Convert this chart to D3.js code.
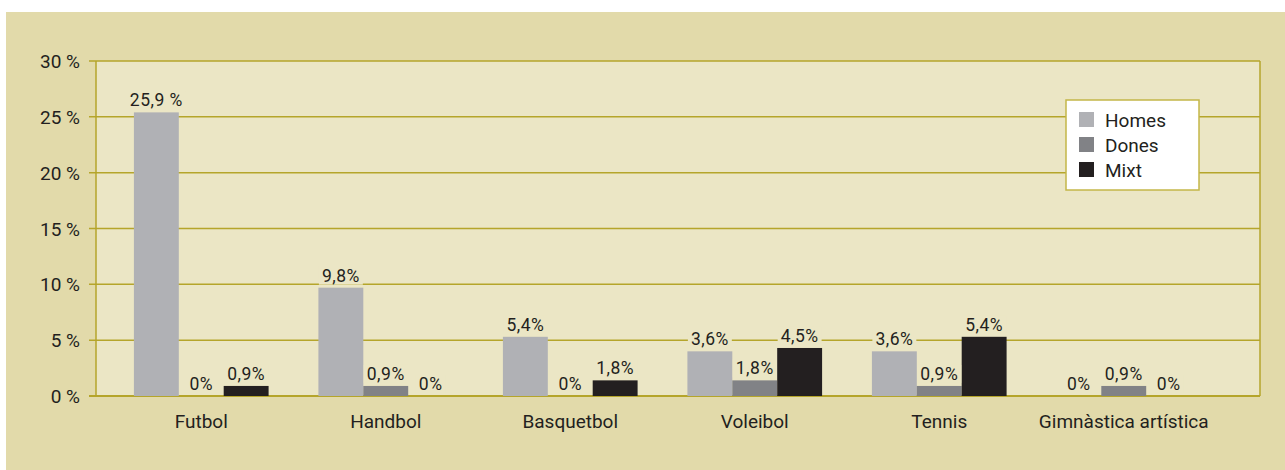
<!DOCTYPE html>
<html lang="ca">
<head>
<meta charset="UTF-8">
<title>Esports per sexe</title>
<script src="https://d3js.org/d3.v7.min.js"></script>
<style>
    body { margin: 0; background: #fff; }
    svg { display: block; font-family: 'Roboto', 'Liberation Sans', sans-serif; }
</style>
</head>
<body>
<div id="chart"></div>
<script>
    // data
    const categories = ["Futbol", "Handbol", "Basquetbol", "Voleibol", "Tennis", "Gimnàstica artística"];
    const series = ["Homes", "Dones", "Mixt"];
    const homes = [25.4, 9.7, 5.3, 4.0, 4.0, 0];
    const dones = [0, 0.9, 0, 1.4, 0.9, 0.9];
    const mixt = [0.9, 0, 1.4, 4.3, 5.3, 0];
    const homesLabels = ["25,9 %", "9,8%", "5,4%", "3,6%", "3,6%", "0%"];
    const donesLabels = ["0%", "0,9%", "0%", "1,8%", "0,9%", "0,9%"];
    const mixtLabels = ["0,9%", "0%", "1,8%", "4,5%", "5,4%", "0%"];
    const yTicks = [0, 5, 10, 15, 20, 25, 30];

    const width = 1285, height = 470;
    const colors = { Homes: "#b0b1b5", Dones: "#818286", Mixt: "#231f20" };
    const plotBg = "#ebe6c5", outerBg = "#e2daaa", gold = "#b5a52b", ink = "#231f20";

    const values = { Homes: homes, Dones: dones, Mixt: mixt };
    const labels = { Homes: homesLabels, Dones: donesLabels, Mixt: mixtLabels };

    const svg = d3.select("#chart").append("svg")
        .attr("width", width)
        .attr("height", height);

    // outer panel
    svg.append("rect")
        .attr("x", 6).attr("y", 12)
        .attr("width", width - 6).attr("height", height - 12)
        .attr("fill", outerBg);

    const plot = { left: 96, right: 1260, top: 61, bottom: 396 };

    const y = d3.scaleLinear().domain([0, 30]).range([plot.bottom, plot.top]);
    const x0 = d3.scaleBand().domain(categories).range([109, 1216])
        .paddingInner(0.27).paddingOuter(0.135);
    const x1 = d3.scaleBand().domain(series).range([0, x0.bandwidth()]);

    svg.append("rect")
        .attr("x", plot.left).attr("y", plot.top)
        .attr("width", plot.right - plot.left).attr("height", plot.bottom - plot.top)
        .attr("fill", plotBg);

    // gridlines + ticks
    svg.append("g")
        .selectAll("line")
        .data(yTicks)
        .join("line")
        .attr("x1", plot.left - 7).attr("x2", plot.right)
        .attr("y1", d => y(d)).attr("y2", d => y(d))
        .attr("stroke", gold).attr("stroke-width", d => d === 0 ? 2 : 1.5);

    svg.append("line")
        .attr("x1", plot.left).attr("x2", plot.left)
        .attr("y1", plot.top).attr("y2", plot.bottom)
        .attr("stroke", gold).attr("stroke-width", 1.5);
    svg.append("line")
        .attr("x1", plot.right).attr("x2", plot.right)
        .attr("y1", plot.top).attr("y2", plot.bottom)
        .attr("stroke", gold).attr("stroke-width", 1.5);

    svg.append("g")
        .selectAll("text")
        .data(yTicks)
        .join("text")
        .attr("x", 80).attr("y", d => y(d) + 7)
        .attr("text-anchor", "end")
        .attr("font-size", 19).attr("fill", ink)
        .text(d => d + " %");

    // bars
    const rows = [];
    categories.forEach((c, i) => {
        series.forEach(s => rows.push({ cat: c, s: s, v: values[s][i], label: labels[s][i] }));
    });

    svg.append("g")
        .selectAll("rect")
        .data(rows)
        .join("rect")
        .attr("x", d => x0(d.cat) + x1(d.s))
        .attr("y", d => y(d.v))
        .attr("width", x1.bandwidth())
        .attr("height", d => y(0) - y(d.v))
        .attr("fill", d => colors[d.s]);

    // value labels with masking background
    const lab = svg.append("g")
        .selectAll("g")
        .data(rows)
        .join("g");
    lab.append("text")
        .attr("x", d => x0(d.cat) + x1(d.s) + x1.bandwidth() / 2)
        .attr("y", d => y(d.v) - 6)
        .attr("text-anchor", "middle")
        .attr("font-size", 17.5).attr("fill", ink)
        .attr("letter-spacing", 0.5)
        .text(d => d.label);
    lab.each(function () {
        const g = d3.select(this);
        const b = g.select("text").node().getBBox();
        g.insert("rect", "text")
            .attr("x", b.x - 3).attr("y", b.y + 1)
            .attr("width", b.width + 6).attr("height", b.height - 2)
            .attr("fill", plotBg);
    });

    // category labels
    svg.append("g")
        .selectAll("text")
        .data(categories)
        .join("text")
        .attr("x", d => x0(d) + x0.bandwidth() / 2)
        .attr("y", 428)
        .attr("text-anchor", "middle")
        .attr("font-size", 19).attr("fill", ink)
        .text(d => d);

    // legend
    const legend = svg.append("g").attr("transform", "translate(1066,100)");
    legend.append("rect")
        .attr("width", 133).attr("height", 90)
        .attr("fill", "#fff").attr("stroke", "#c4b748").attr("stroke-width", 1.5);
    series.forEach((s, i) => {
        legend.append("rect")
            .attr("x", 13).attr("y", 12 + i * 25)
            .attr("width", 15).attr("height", 15)
            .attr("fill", colors[s]);
        legend.append("text")
            .attr("x", 39).attr("y", 27 + i * 25)
            .attr("font-size", 19).attr("fill", ink)
            .text(s);
    });
</script>
</body>
</html>
